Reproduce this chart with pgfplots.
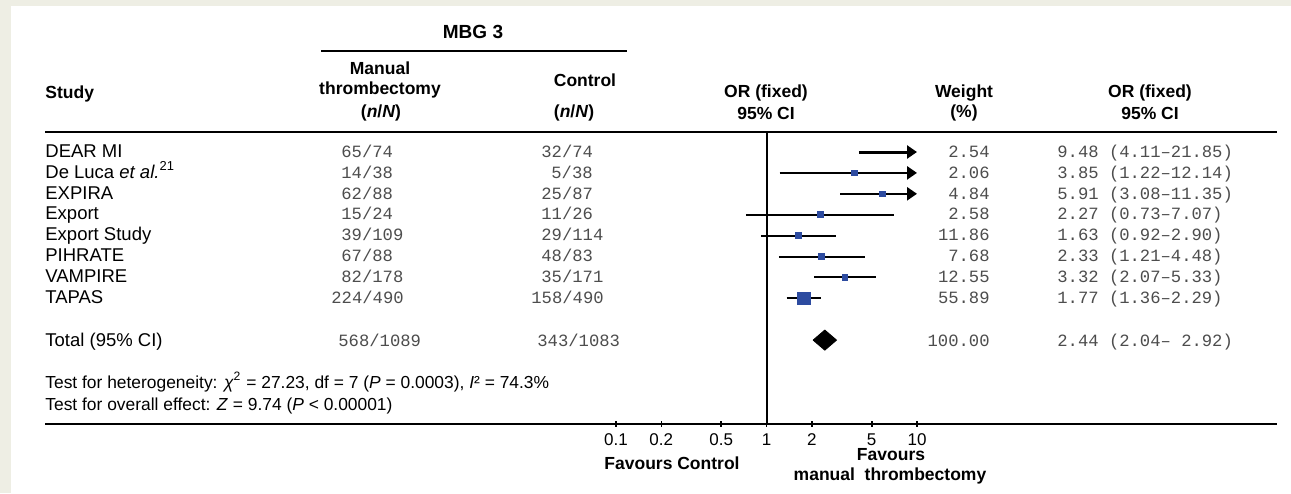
\documentclass[border=0pt]{standalone}
\usepackage{pgfplots}
\pgfplotsset{compat=1.18}
\usepackage{fontspec}
\setmainfont{Liberation Sans}
\setmonofont{Liberation Mono}
\usetikzlibrary{arrows.meta}
\definecolor{bgbeige}{HTML}{EEEEE4}
\definecolor{numgray}{HTML}{4D4D4D}
\definecolor{sqblue}{RGB}{45,75,160}
\newcommand\fR{\fontsize{9.25}{11}\selectfont}
\newcommand\fS{\fontsize{8.7}{10.5}\selectfont}
\newcommand\fB{\fontsize{8.75}{10.5}\selectfont\bfseries}
\newcommand\fH{\fontsize{9.5}{11}\selectfont\bfseries}
\newcommand\fT{\fontsize{8.5}{10}\selectfont}
\newcommand\fM{\fontsize{8.6}{10}\selectfont\ttfamily\color{numgray}}
\begin{document}
\begin{tikzpicture}
\begin{scope}[x=0.5pt,y=-0.5pt]
\path[use as bounding box] (0,0) rectangle (1291,493);
\fill[bgbeige] (0,0) rectangle (1291,493);
\fill[white] (11,6) rectangle (1291,493);
% ---- header
\node[font=\fH] at (473,32) {MBG 3};
\draw[line width=1pt] (321,51) -- (627,51);
\node[font=\fB, anchor=mid west, inner sep=0] at (45,93) {Study};
\node[font=\fB] at (380,68) {Manual};
\node[font=\fB] at (380,90) {thrombectomy};
\node[font=\fB] at (381,113) {(\textit{n}/\textit{N})};
\node[font=\fB] at (585,80) {Control};
\node[font=\fB] at (574,113) {(\textit{n}/\textit{N})};
\node[font=\fB] at (766,93) {OR (fixed)};
\node[font=\fB] at (766,113) {95\% CI};
\node[font=\fB] at (964,93) {Weight};
\node[font=\fB] at (964,113) {(\%)};
\node[font=\fB] at (1150,93) {OR (fixed)};
\node[font=\fB] at (1150,113) {95\% CI};
% ---- study names
\begin{scope}[every node/.style={font=\fR, anchor=mid west, inner sep=0}]
\node at (45,152.0) {DEAR MI};
\node at (45,172.9) {De Luca \textit{et al.}\textsuperscript{21}};
\node at (45,193.8) {EXPIRA};
\node at (45,214.7) {Export};
\node at (45,235.6) {Export Study};
\node at (45,256.5) {PIHRATE};
\node at (45,277.4) {VAMPIRE};
\node at (45,298.3) {TAPAS};
\node at (45,341) {Total (95\% CI)};
\node[font=\fS] at (45,383) {Test for heterogeneity: \textit{χ}\textsuperscript{2} = 27.23, df = 7 (\textit{P} = 0.0003), \textit{I}² = 74.3\%};
\node[font=\fS] at (45,405) {Test for overall effect: \textit{Z} = 9.74 (\textit{P} < 0.00001)};
\end{scope}
\begin{scope}[every node/.style={font=\fM, anchor=mid west, inner sep=0}]
% ---- manual thrombectomy n/N
\node at (341,152.0) {65/74};
\node at (341,172.9) {14/38};
\node at (341,193.8) {62/88};
\node at (341,214.7) {15/24};
\node at (341,235.6) {39/109};
\node at (341,256.5) {67/88};
\node at (341,277.4) {82/178};
\node at (331,298.3) {224/490};
\node at (338,341) {568/1089};
% ---- control n/N
\node at (541,152.0) {32/74};
\node at (551,172.9) {5/38};
\node at (541,193.8) {25/87};
\node at (541,214.7) {11/26};
\node at (541,235.6) {29/114};
\node at (541,256.5) {48/83};
\node at (541,277.4) {35/171};
\node at (531,298.3) {158/490};
\node at (537,341) {343/1083};
% ---- OR text
\node at (1057,152.0) {9.48 (4.11–21.85)};
\node at (1057,172.9) {3.85 (1.22–12.14)};
\node at (1057,193.8) {5.91 (3.08–11.35)};
\node at (1057,214.7) {2.27 (0.73–7.07)};
\node at (1057,235.6) {1.63 (0.92–2.90)};
\node at (1057,256.5) {2.33 (1.21–4.48)};
\node at (1057,277.4) {3.32 (2.07–5.33)};
\node at (1057,298.3) {1.77 (1.36–2.29)};
\node at (1057,341) {2.44 (2.04– 2.92)};
\end{scope}
% ---- weights
\begin{scope}[every node/.style={font=\fM, anchor=mid east, inner sep=0}]
\node at (990,152.0) {2.54};
\node at (990,172.9) {2.06};
\node at (990,193.8) {4.84};
\node at (990,214.7) {2.58};
\node at (990,235.6) {11.86};
\node at (990,256.5) {7.68};
\node at (990,277.4) {12.55};
\node at (990,298.3) {55.89};
\node at (990,341) {100.00};
\end{scope}
\end{scope}
% ---- forest plot
\begin{axis}[
  at={(308pt,-211.85pt)}, anchor=south west,
  scale only axis, width=150.5pt, height=146.3pt,
  xmode=log, xmin=0.1, xmax=10, ymin=-14, ymax=0,
  axis x line*=bottom, axis y line=none,
  x axis line style={line width=1pt},
  xtick={0.1,0.2,0.5,1,2,5,10},
  xticklabels={0.1,0.2,0.5,1,2,5,10},
  minor xtick={},
  xtick align=center, major tick length=3pt,
  every tick/.style={black, line width=0.8pt},
  xticklabel style={font=\fT, anchor=base, inner sep=0pt, yshift=-9.2pt},
  /pgf/number format/assume math mode=true,
  clip=false,
]
\draw[line width=1pt] (axis cs:1,0) -- (axis cs:1,-14);
% confidence intervals
\addplot[black, line width=1pt] coordinates {(0.73,-4) (7.07,-4)};
\addplot[black, line width=1pt] coordinates {(0.92,-5) (2.90,-5)};
\addplot[black, line width=1pt] coordinates {(1.21,-6) (4.48,-6)};
\addplot[black, line width=1pt] coordinates {(2.07,-7) (5.33,-7)};
\addplot[black, line width=1pt] coordinates {(1.36,-8) (2.29,-8)};
% point estimates
\addplot[only marks, mark=square*, mark options={fill=sqblue, draw=sqblue}, mark size=1.45pt]
  coordinates {(3.85,-2) (5.91,-3) (2.27,-4) (1.63,-5) (2.33,-6) (3.32,-7)};
\addplot[only marks, mark=square*, mark options={fill=sqblue, draw=sqblue}, mark size=3.1pt]
  coordinates {(1.77,-8)};
% intervals running past 10
\addplot[black, line width=1.5pt, -{Triangle[length=5pt,width=6.5pt]}] coordinates {(4.11,-1) (10,-1)};
\addplot[black, line width=1.3pt, -{Triangle[length=5pt,width=6.5pt]}] coordinates {(1.22,-2) (10,-2)};
\addplot[black, line width=1.3pt, -{Triangle[length=5pt,width=6.5pt]}] coordinates {(3.08,-3) (10,-3)};
% pooled estimate
\addplot[fill=black, draw=black] coordinates {(2.04,-10) (2.44,-9.52) (2.92,-10) (2.44,-10.48) (2.04,-10)};
\end{axis}
\begin{scope}[x=0.5pt,y=-0.5pt]
\draw[line width=1.4pt] (45,132) -- (1277,132);
\draw[line width=1pt] (45,423.7) -- (1277,423.7);
\node[font=\fB, inner sep=0] at (672,463) {Favours Control};
\node[font=\fB, inner sep=0] at (891,455) {Favours};
\node[font=\fB, inner sep=0] at (890,476) {manual\ \ thrombectomy};
\end{scope}
\end{tikzpicture}
\end{document}
